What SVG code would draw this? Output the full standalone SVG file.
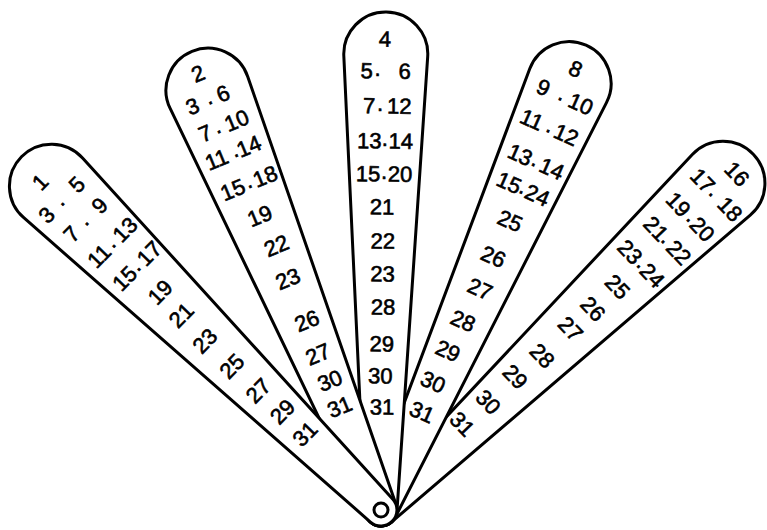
<svg xmlns="http://www.w3.org/2000/svg" width="767" height="530" viewBox="0 0 767 530">
<style>
.blade{fill:#fff;stroke:#000;stroke-width:3;stroke-linejoin:round}
.n{font-family:"Liberation Sans",Arial,sans-serif;font-size:22px;fill:#000;stroke:#000;stroke-width:0.6;text-anchor:middle}
.pivot{fill:#fff;stroke:#000;stroke-width:3}
</style>
<rect width="767" height="530" fill="#fff"/>
<g id="blade16" transform="translate(381,510) rotate(46.3)">
<path class="blade" d="M15.98,0.88 L41.94,-470.69 A42,42 0 1 0 -41.94,-470.69 L-15.98,0.88 A16,16 0 0 0 15.98,0.88 Z"/>
<g class="n">
<text x="3" y="-482">16</text>
<text y="-452.5"><tspan x="-16">17</tspan><tspan x="0" y="-455">.</tspan><tspan x="23.6" y="-452.5">18</tspan></text>
<text y="-418.5"><tspan x="-15.5">19</tspan><tspan x="3" y="-421">.</tspan><tspan x="19" y="-418.5">20</tspan></text>
<text y="-385.5"><tspan x="-13.5">21</tspan><tspan x="1" y="-388">.</tspan><tspan x="19.5" y="-385.5">22</tspan></text>
<text y="-350.5"><tspan x="-14.5">23</tspan><tspan x="2" y="-353">.</tspan><tspan x="18" y="-350.5">24</tspan></text>
<text x="2" y="-317.5">25</text>
<text x="1" y="-284.5">26</text>
<text x="0" y="-254.5">27</text>
<text x="0" y="-215.5">28</text>
<text x="-3.5" y="-181.5">29</text>
<text x="-4" y="-144.5">30</text>
<text x="-6" y="-110.5">31</text>
</g>
</g>
<g id="blade8" transform="translate(381,510) rotate(23.8)">
<path class="blade" d="M15.98,0.89 L41.93,-463.66 A42,42 0 1 0 -41.93,-463.66 L-15.98,0.89 A16,16 0 0 0 15.98,0.89 Z"/>
<g class="n">
<text x="0" y="-474.5">8</text>
<text y="-444.5"><tspan x="-22">9</tspan><tspan x="-2" y="-447">.</tspan><tspan x="19" y="-444.5">10</tspan></text>
<text y="-410.5"><tspan x="-19.5">11</tspan><tspan x="0" y="-413">.</tspan><tspan x="18" y="-410.5">12</tspan></text>
<text y="-373.5"><tspan x="-16">13</tspan><tspan x="0" y="-376">.</tspan><tspan x="18.5" y="-373.5">14</tspan></text>
<text y="-343.5"><tspan x="-15">15</tspan><tspan x="0" y="-346">.</tspan><tspan x="16" y="-343.5">24</tspan></text>
<text x="1.4" y="-309">25</text>
<text x="0.4" y="-269.5">26</text>
<text x="1.4" y="-234.5">27</text>
<text x="-1.3" y="-198.5">28</text>
<text x="-3" y="-165">29</text>
<text x="-4" y="-130.5">30</text>
<text x="-2" y="-98.5">31</text>
</g>
</g>
<g id="blade4" transform="translate(381,510) rotate(0.6)">
<path class="blade" d="M15.97,0.91 L41.93,-453.61 A42,42 0 1 0 -41.93,-453.61 L-15.97,0.91 A16,16 0 0 0 15.97,0.91 Z"/>
<g class="n">
<text x="-1" y="-463.5">4</text>
<text y="-431.5"><tspan x="-19">5</tspan><tspan x="-8" y="-434">.</tspan><tspan x="19" y="-431.5">6</tspan></text>
<text y="-396.5"><tspan x="-16">7</tspan><tspan x="-5" y="-399">.</tspan><tspan x="14" y="-396.5">12</tspan></text>
<text y="-361.5"><tspan x="-15.5">13</tspan><tspan x="0" y="-364">.</tspan><tspan x="16" y="-361.5">14</tspan></text>
<text y="-328.5"><tspan x="-16.5">15</tspan><tspan x="-0.5" y="-331">.</tspan><tspan x="15.5" y="-328.5">20</tspan></text>
<text x="-2" y="-295.5">21</text>
<text x="-1" y="-261.5">22</text>
<text x="-1" y="-228.5">23</text>
<text x="0" y="-195.5">28</text>
<text x="-1" y="-158.5">29</text>
<text x="-2" y="-126.5">30</text>
<text x="0" y="-95.5">31</text>
</g>
</g>
<g id="blade2" transform="translate(381,510) rotate(-22.4)">
<path class="blade" d="M15.97,0.92 L41.93,-451.59 A42,42 0 1 0 -41.93,-451.59 L-15.97,0.92 A16,16 0 0 0 15.97,0.92 Z"/>
<g class="n">
<text x="-3" y="-465.5">2</text>
<text y="-437.5"><tspan x="-20.5">3</tspan><tspan x="-2.5" y="-440">.</tspan><tspan x="12.5" y="-437.5">6</tspan></text>
<text y="-407.5"><tspan x="-19">7</tspan><tspan x="-5.5" y="-410">.</tspan><tspan x="15" y="-407.5">10</tspan></text>
<text y="-379"><tspan x="-18.5">11</tspan><tspan x="1.5" y="-381.5">.</tspan><tspan x="16.5" y="-379">14</tspan></text>
<text y="-345"><tspan x="-15">15</tspan><tspan x="2.5" y="-347.5">.</tspan><tspan x="20" y="-345">18</tspan></text>
<text x="0" y="-310.5">19</text>
<text x="4" y="-276.5">22</text>
<text x="2" y="-241.5">23</text>
<text x="3.5" y="-195.5">26</text>
<text x="1" y="-160.5">27</text>
<text x="2" y="-131.5">30</text>
<text x="1" y="-103.5">31</text>
</g>
</g>
<g id="blade1" transform="translate(381,510) rotate(-45.5)">
<path class="blade" d="M15.97,0.90 L41.93,-459.64 A42,42 0 1 0 -41.93,-459.64 L-15.97,0.90 A16,16 0 0 0 15.97,0.90 Z"/>
<g class="n">
<text x="-5" y="-465.5">1</text>
<text y="-437.5"><tspan x="-24">3</tspan><tspan x="-5" y="-440">.</tspan><tspan x="19" y="-437.5">5</tspan></text>
<text y="-406.5"><tspan x="-20">7</tspan><tspan x="-2" y="-409">.</tspan><tspan x="20" y="-406.5">9</tspan></text>
<text y="-371.5"><tspan x="-16.5">11</tspan><tspan x="1" y="-374">.</tspan><tspan x="20.5" y="-371.5">13</tspan></text>
<text y="-337.5"><tspan x="-14.5">15</tspan><tspan x="2" y="-340">.</tspan><tspan x="20.5" y="-337.5">17</tspan></text>
<text x="0.5" y="-302.5">19</text>
<text x="-1" y="-271.5">21</text>
<text x="-3" y="-236.5">23</text>
<text x="-2" y="-199.5">25</text>
<text x="-1" y="-163.5">27</text>
<text x="1" y="-131.5">29</text>
<text x="1" y="-100">31</text>
</g>
</g>
<g id="pivot">
<circle class="pivot" cx="381" cy="510" r="7"/>
</g>
</svg>
